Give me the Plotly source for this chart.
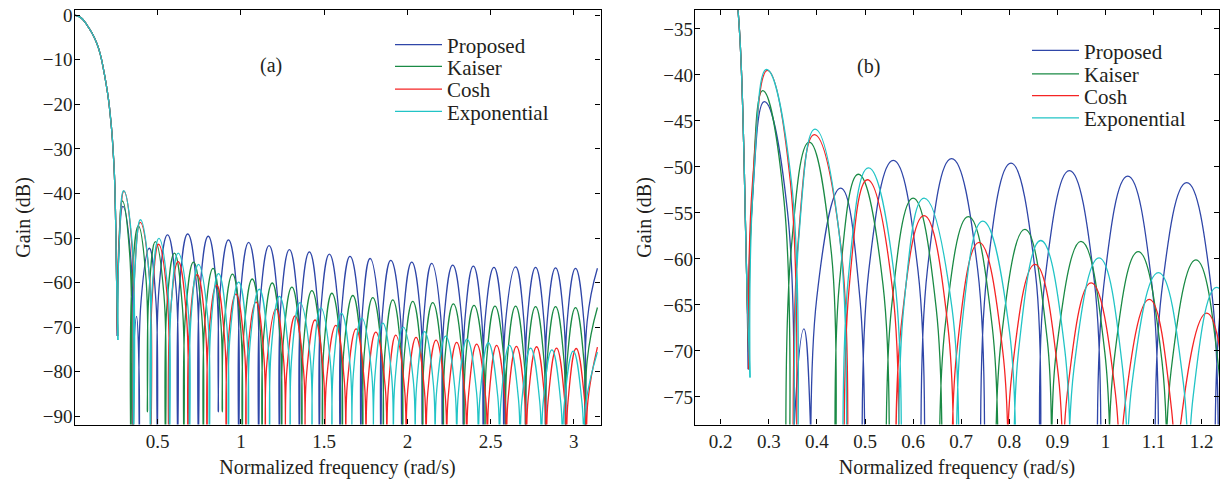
import plotly.graph_objects as go

# ---------------- data ----------------
# main lobe (shared by all four windows)
main_f = [0.0, 0.04, 0.075, 0.105, 0.135, 0.155, 0.175, 0.19, 0.205, 0.215,
          0.225, 0.233, 0.24, 0.246, 0.251, 0.2545]
main_db = [0.0, -0.6, -2.2, -4.0, -6.4, -8.8, -12.3, -15.4, -19.1, -22.5,
           -26.5, -31.0, -36.0, -44.0, -55.0, -63.0]

# side lobes: for every lobe -> null, rising flank, peak, falling flank
prop_f = [
    0.2574, 0.2646, 0.2907, 0.339,
    0.348, 0.3514, 0.373, 0.3876,
    0.391, 0.3996, 0.4495, 0.4894,
    0.498, 0.5078, 0.5588, 0.6102,
    0.620, 0.6299, 0.680, 0.7341,
    0.744, 0.7536, 0.8035, 0.8544,
    0.864, 0.8738, 0.9248, 0.9767,
    0.9865, 0.9961, 1.0462, 1.0969,
    1.1065, 1.1165, 1.1688, 1.221,
    1.231, 1.2406, 1.291, 1.3414,
    1.351, 1.3606, 1.411, 1.4614,
    1.471, 1.4809, 1.531, 1.5851,
    1.595, 1.605, 1.655, 1.710,
    1.720, 1.7296, 1.776, 1.8304,
    1.840, 1.850, 1.900, 1.956,
    1.966, 1.9758, 2.026, 2.0792,
    2.089, 2.0987, 2.146, 2.2003,
    2.210, 2.220, 2.272, 2.326,
    2.336, 2.3456, 2.396, 2.4464,
    2.456, 2.4659, 2.520, 2.5701,
    2.580, 2.5904, 2.650, 2.6996,
    2.710, 2.7196, 2.770, 2.8204,
    2.830, 2.8396, 2.890, 2.9404,
    2.950, 2.9596, 3.010, 3.0604,
    3.070, 3.0796, 3.1416]
prop_db = [
    -72.0, -54.9, -42.9, -54.9,
    -100, -79.6, -67.6, -79.6,
    -100, -64.3, -52.3, -64.3,
    -100, -61.3, -49.3, -61.3,
    -100, -61.1, -49.1, -61.1,
    -100, -61.6, -49.6, -61.6,
    -89, -62.4, -50.4, -62.4,
    -100, -63.0, -51.0, -63.0,
    -100, -63.7, -51.7, -63.7,
    -100, -64.6, -52.6, -64.6,
    -100, -65.1, -53.1, -65.1,
    -100, -65.6, -53.6, -65.6,
    -100, -66.1, -54.1, -66.1,
    -100, -66.6, -54.6, -66.6,
    -100, -67.0, -55.0, -67.0,
    -100, -67.4, -55.4, -67.4,
    -100, -67.7, -55.7, -67.7,
    -100, -68.1, -56.1, -68.1,
    -100, -68.3, -56.3, -68.3,
    -100, -68.6, -56.6, -68.6,
    -100, -68.5, -56.5, -68.5,
    -100, -68.6, -56.6, -68.6,
    -100, -68.7, -56.7, -68.7,
    -100, -68.8, -56.8, -68.8,
    -100, -68.8, -56.8]

kaiser_f = [
    0.259, 0.2653, 0.2873, 0.3317,
    0.338, 0.346, 0.384, 0.430,
    0.438, 0.4466, 0.486, 0.5374,
    0.546, 0.5549, 0.600, 0.6481,
    0.657, 0.6664, 0.7148, 0.7646,
    0.774, 0.7831, 0.8326, 0.8789,
    0.888, 0.8976, 0.949, 0.9984,
    1.008, 1.0175, 1.068, 1.1175,
    1.127, 1.1364, 1.188, 1.2356,
    1.245, 1.2547, 1.306, 1.3563,
    1.366, 1.3758, 1.426, 1.4792,
    1.489, 1.4986, 1.546, 1.5994,
    1.609, 1.6188, 1.672, 1.7222,
    1.732, 1.7418, 1.792, 1.8452,
    1.855, 1.8644, 1.912, 1.9626,
    1.972, 1.9816, 2.032, 2.0824,
    2.092, 2.1019, 2.152, 2.2061,
    2.216, 2.2259, 2.276, 2.3301,
    2.340, 2.350, 2.400, 2.456,
    2.466, 2.4759, 2.526, 2.5801,
    2.590, 2.5996, 2.650, 2.7004,
    2.710, 2.7196, 2.770, 2.8204,
    2.830, 2.8396, 2.890, 2.9404,
    2.950, 2.9596, 3.010, 3.0604,
    3.070, 3.0796, 3.1416]
kaiser_db = [
    -72.0, -53.7, -41.7, -53.7,
    -100, -59.3, -47.3, -59.3,
    -89, -62.8, -50.8, -62.8,
    -100, -65.4, -53.4, -65.4,
    -100, -67.4, -55.4, -67.4,
    -100, -68.8, -56.8, -68.8,
    -89, -70.1, -58.1, -70.1,
    -100, -71.2, -59.2, -71.2,
    -100, -72.1, -60.1, -72.1,
    -100, -73.0, -61.0, -73.0,
    -100, -73.8, -61.8, -73.8,
    -100, -74.4, -62.4, -74.4,
    -100, -74.9, -62.9, -74.9,
    -100, -75.4, -63.4, -75.4,
    -100, -75.9, -63.9, -75.9,
    -100, -76.2, -64.2, -76.2,
    -100, -76.5, -64.5, -76.5,
    -100, -76.8, -64.8, -76.8,
    -100, -77.1, -65.1, -77.1,
    -100, -77.3, -65.3, -77.3,
    -100, -77.3, -65.3, -77.3,
    -100, -77.4, -65.4, -77.4,
    -100, -77.4, -65.4, -77.4,
    -100, -77.6, -65.6, -77.6,
    -100, -77.6, -65.6]

cosh_f = [
    0.259, 0.2664, 0.297, 0.3446,
    0.352, 0.3605, 0.3946, 0.4495,
    0.458, 0.4666, 0.505, 0.5574,
    0.566, 0.5752, 0.6227, 0.6723,
    0.6815, 0.6906, 0.737, 0.7867,
    0.7958, 0.805, 0.8535, 0.9018,
    0.911, 0.9205, 0.970, 1.0205,
    1.030, 1.0393, 1.091, 1.1373,
    1.1466, 1.1562, 1.2104, 1.2574,
    1.267, 1.2764, 1.325, 1.3756,
    1.385, 1.3946, 1.445, 1.4954,
    1.505, 1.515, 1.570, 1.620,
    1.630, 1.6397, 1.692, 1.7413,
    1.751, 1.761, 1.810, 1.866,
    1.876, 1.8853, 1.930, 1.9827,
    1.992, 2.0016, 2.052, 2.1024,
    2.112, 2.1219, 2.172, 2.2261,
    2.236, 2.2456, 2.296, 2.3464,
    2.356, 2.3659, 2.416, 2.4701,
    2.480, 2.4892, 2.536, 2.5858,
    2.595, 2.6046, 2.655, 2.7054,
    2.715, 2.7246, 2.776, 2.8254,
    2.835, 2.8446, 2.896, 2.9454,
    2.955, 2.9646, 3.014, 3.0654,
    3.075, 3.0846, 3.1416]
cosh_db = [
    -72.0, -51.5, -39.5, -51.5,
    -100, -58.5, -46.5, -58.5,
    -100, -63.4, -51.4, -63.4,
    -100, -67.3, -55.3, -67.3,
    -100, -70.2, -58.2, -70.2,
    -100, -72.6, -60.6, -72.6,
    -100, -74.6, -62.6, -74.6,
    -100, -76.4, -64.4, -76.4,
    -100, -77.9, -65.9, -77.9,
    -100, -79.5, -67.5, -79.5,
    -100, -80.4, -68.4, -80.4,
    -100, -81.6, -69.6, -81.6,
    -100, -82.4, -70.4, -82.4,
    -100, -83.1, -71.1, -83.1,
    -100, -83.8, -71.8, -83.8,
    -100, -84.3, -72.3, -84.3,
    -100, -84.9, -72.9, -84.9,
    -100, -85.4, -73.4, -85.4,
    -100, -85.8, -73.8, -85.8,
    -100, -86.1, -74.1, -86.1,
    -100, -86.3, -74.3, -86.3,
    -100, -86.4, -74.4, -86.4,
    -100, -86.7, -74.7, -86.7,
    -100, -86.8, -74.8, -86.8,
    -100, -86.5, -74.5]

expo_f = [
    0.261, 0.2684, 0.295, 0.3466,
    0.354, 0.3622, 0.396, 0.4478,
    0.456, 0.4652, 0.507, 0.5615,
    0.5707, 0.5803, 0.6227, 0.681,
    0.6906, 0.7002, 0.7447, 0.8004,
    0.810, 0.8192, 0.8653, 0.9156,
    0.9248, 0.9344, 0.9865, 1.0354,
    1.045, 1.0552, 1.110, 1.1618,
    1.172, 1.1818, 1.231, 1.2852,
    1.295, 1.3055, 1.355, 1.4155,
    1.426, 1.4356, 1.480, 1.5364,
    1.546, 1.5556, 1.604, 1.6564,
    1.666, 1.6763, 1.726, 1.7847,
    1.795, 1.8046, 1.852, 1.9054,
    1.915, 1.9255, 1.975, 2.0355,
    2.046, 2.0556, 2.103, 2.1564,
    2.166, 2.1764, 2.230, 2.2856,
    2.296, 2.3064, 2.358, 2.4156,
    2.426, 2.4362, 2.486, 2.5428,
    2.553, 2.5629, 2.613, 2.6671,
    2.677, 2.6872, 2.740, 2.7948,
    2.805, 2.8152, 2.868, 2.9218,
    2.932, 2.9422, 2.996, 3.0498,
    3.060, 3.0702, 3.1416]
expo_db = [
    -72.9, -51.4, -39.4, -51.4,
    -100, -57.9, -45.9, -57.9,
    -100, -62.1, -50.1, -62.1,
    -100, -65.4, -53.4, -65.4,
    -100, -67.9, -55.9, -67.9,
    -100, -70.0, -58.0, -70.0,
    -100, -71.9, -59.9, -71.9,
    -100, -73.5, -61.5, -73.5,
    -100, -75.1, -63.1, -75.1,
    -100, -76.5, -64.5, -76.5,
    -100, -77.7, -65.7, -77.7,
    -100, -78.9, -66.9, -78.9,
    -100, -80.0, -68.0, -80.0,
    -100, -81.1, -69.1, -81.1,
    -100, -82.0, -70.0, -82.0,
    -100, -83.0, -71.0, -83.0,
    -100, -84.0, -72.0, -84.0,
    -100, -84.7, -72.7, -84.7,
    -100, -85.5, -73.5, -85.5,
    -100, -86.1, -74.1, -86.1,
    -100, -86.7, -74.7, -86.7,
    -100, -87.1, -75.1, -87.1,
    -100, -87.4, -75.4, -87.4,
    -100, -87.6, -75.6]

names = ["Proposed", "Kaiser", "Cosh", "Exponential"]
colors = ["#2F46A8", "#1A8A45", "#F52424", "#22C4C6"]

xticks_a = [0.5, 1, 1.5, 2, 2.5, 3]
yticks_a = [0, -10, -20, -30, -40, -50, -60, -70, -80, -90]
xticks_b = [0.2, 0.3, 0.4, 0.5, 0.6, 0.7, 0.8, 0.9, 1.0, 1.1, 1.2]
xticklabels_b = ["0.2", "0.3", "0.4", "0.5", "0.6", "0.7", "0.8", "0.9", "1", "1.1", "1.2"]
yticks_b = [-35, -40, -45, -50, -55, -60, -65, -70, -75]

series_f = [prop_f, kaiser_f, cosh_f, expo_f]
series_db = [prop_db, kaiser_db, cosh_db, expo_db]
for sf, sd in zip(series_f, series_db):
    assert len(sf) == len(sd)

# ---------------- figure ----------------
W, H = 1221, 485
FONT = "Liberation Serif"
TXT = "#231F20"


def px(xp):
    return xp / W


def py(yp):
    return 1 - yp / H


fig = go.Figure()

legend_ids_a = ["legend", "legend2", "legend3", "legend4"]
legend_ids_b = ["legend5", "legend6", "legend7", "legend8"]

for i in range(4):
    sf, sd = series_f[i], series_db[i]
    xs = main_f + sf[:1] + [None] + sf
    ys = main_db + sd[:1] + [None] + sd
    for xa, ya, lg in [("x", "y", legend_ids_a[i]), ("x2", "y2", legend_ids_b[i])]:
        fig.add_trace(go.Scatter(
            x=xs, y=ys, mode="lines", name=names[i],
            line=dict(color=colors[i], width=1.3, shape="spline", smoothing=1.3),
            connectgaps=False, xaxis=xa, yaxis=ya, legend=lg,
            showlegend=True, hoverinfo="skip"))

axis_common = dict(showline=True, linecolor="black", linewidth=1.3, mirror="ticks",
                   ticks="inside", ticklen=5, tickwidth=1, tickcolor="black",
                   showgrid=False, zeroline=False, automargin=False,
                   tickfont=dict(family=FONT, size=19, color=TXT),
                   title_font=dict(family=FONT, size=20, color=TXT))

ydom = [py(424.5), py(10.3)]
fig.update_layout(
    template="none",
    width=W, height=H,
    margin=dict(l=0, r=0, t=0, b=0, pad=0),
    paper_bgcolor="white", plot_bgcolor="white",
    font=dict(family=FONT, size=19, color=TXT),
    xaxis=dict(domain=[px(74.5), px(600.5)], range=[0, 3.16], tickvals=xticks_a,
               anchor="y", title=dict(text="Normalized frequency (rad/s)", standoff=8),
               **axis_common),
    yaxis=dict(domain=ydom, range=[-91.85, 1.1], tickvals=yticks_a, anchor="x",
               ticklabelstandoff=-3,
               title=dict(text="Gain (dB)", standoff=6), **axis_common),
    xaxis2=dict(domain=[px(695), px(1219)], range=[0.1466, 1.2359], tickvals=xticks_b,
                ticktext=xticklabels_b, anchor="y2",
                title=dict(text="Normalized frequency (rad/s)", standoff=8), **axis_common),
    yaxis2=dict(domain=ydom, range=[-78.0, -32.98], tickvals=yticks_b, anchor="x2",
                ticklabelstandoff=-3,
                title=dict(text="Gain (dB)", standoff=6), **axis_common),
)

leg_y_a = [45, 66.7, 89.5, 111.7]
leg_y_b = [50.7, 74.3, 96, 118.3]
leg_style = dict(xanchor="left", yanchor="middle", bgcolor="rgba(0,0,0,0)",
                 borderwidth=0, font=dict(family=FONT, size=21, color=TXT),
                 itemclick=False, itemdoubleclick=False, itemwidth=47)
lay = {}
for i in range(4):
    lay[legend_ids_a[i]] = dict(x=px(390), y=py(leg_y_a[i]), **leg_style)
    lay[legend_ids_b[i]] = dict(x=px(1027), y=py(leg_y_b[i]), **leg_style)
fig.update_layout(**lay)

fig.add_annotation(text="(a)", x=px(258), y=py(52), xref="paper", yref="paper",
                   showarrow=False, font=dict(family=FONT, size=20, color=TXT))
fig.add_annotation(text="(b)", x=px(882), y=py(53), xref="paper", yref="paper",
                   showarrow=False, font=dict(family=FONT, size=20, color=TXT))

# remove the browser's default 8 px page margin so the figure fills the window
fig.write_html("out.html", config={"displayModeBar": False},
               post_script="document.body.style.margin='0px';")
